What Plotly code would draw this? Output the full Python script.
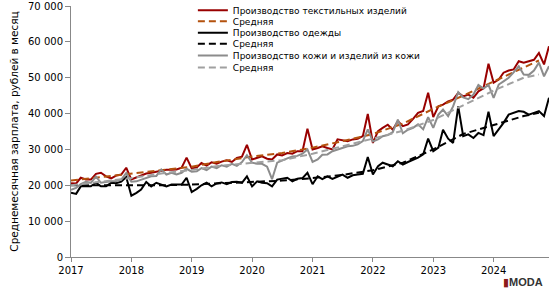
import pandas as pd
import plotly.graph_objects as go

# ---- data ----
months = pd.date_range("2017-01-01", "2024-12-01", freq="MS")

textile = [
    20600, 20500, 22100, 21600, 21600, 23200, 23500, 22500, 21900, 22700, 23000, 24900,
    21600, 22200, 22800, 23300, 23500, 23800, 24100, 24300, 24300, 24400, 24900, 27700,
    24700, 25000, 26200, 25500, 26400, 26000, 26600, 27000, 26500, 27600, 28000, 31300,
    27200, 27600, 28100, 27400, 27200, 28600, 28300, 29000, 28800, 29500, 29500, 35800,
    30000, 30400, 30900, 30400, 30000, 32800, 32500, 32300, 32800, 33000, 33700, 39900,
    31800, 35100, 36000, 36900, 35500, 37900, 36500, 37000, 38500, 40200, 40700, 45800,
    39000, 42000, 42500, 43400, 43900, 45800, 44800, 45300, 44400, 46200, 47000, 53900,
    48600, 49500, 51400, 52000, 52300, 54600, 54200, 54600, 55000, 56900, 53700, 58800,
]
apparel = [
    17900, 17600, 19700, 19700, 19700, 20700, 19700, 19700, 20700, 20600, 21000, 22300,
    17100, 17900, 18800, 20900, 19700, 20700, 20200, 19700, 20200, 20200, 20200, 22100,
    18100, 19000, 20000, 20700, 19700, 20500, 20800, 20300, 20900, 21000, 20700, 22500,
    19700, 21100, 20700, 20600, 19700, 21600, 21800, 22100, 21100, 21800, 22000, 23500,
    20300, 22500, 21700, 22500, 21800, 22400, 23000, 22100, 22800, 23000, 23200, 27900,
    23000, 25300, 26300, 25800, 25300, 26700, 25800, 26500, 27000, 27700, 28600, 33000,
    29500, 30500, 35500, 33000, 31800, 42000, 33700, 34200, 33200, 34600, 34000, 40500,
    33700, 35500, 37400, 39700, 40200, 40700, 40500, 39700, 40200, 40700, 39300, 44400,
]
leather = [
    18700, 19300, 20300, 21000, 20700, 22400, 20700, 21000, 21100, 21200, 21600, 23400,
    21000, 21100, 21600, 22100, 22500, 22600, 24400, 23000, 23500, 23000, 23500, 24600,
    23800, 23900, 24800, 24200, 25200, 24800, 25600, 25200, 26000, 25400, 26500, 28400,
    26300, 26000, 26000, 25200, 21700, 26300, 27000, 27500, 28000, 28200, 28800, 30000,
    26500, 27200, 28500, 28600, 29500, 30000, 30500, 30900, 31000, 31400, 32300, 35600,
    32200, 32800, 33700, 34000, 34800, 38300, 34500, 35500, 36000, 37000, 35600, 39000,
    36000, 39700, 41100, 39300, 42000, 46000, 44500, 44000, 45300, 48000, 47000, 48000,
    44400, 48100, 49000, 50000, 51500, 53200, 50900, 50800, 52000, 54200, 50400, 53200,
]

avg_dates = [
    "2017-01-01", "2017-07-01", "2018-01-01", "2018-07-01", "2019-01-01", "2019-07-01",
    "2020-01-01", "2020-07-01", "2021-01-01", "2021-07-01", "2022-01-01", "2022-07-01",
    "2023-01-01", "2023-07-01", "2024-01-01", "2024-07-01", "2024-10-01",
]
textile_avg = [21300, 22300, 23300, 24200, 25200, 26700, 28000, 29000, 30500, 32300,
               34300, 37200, 41300, 45000, 49000, 53000, 54800]
apparel_avg = [20000, 20000, 19900, 20000, 20200, 20600, 20900, 21300, 22000, 22900,
               24200, 26300, 30000, 34300, 36800, 39300, 40200]
leather_avg = [20000, 21000, 22000, 23300, 24300, 25500, 26200, 27000, 28800, 30800,
               33000, 35200, 38200, 42300, 46400, 50000, 50900]

names = [
    "Производство текстильных изделий", "Средняя",
    "Производство одежды", "Средняя",
    "Производство кожи и изделий из кожи", "Средняя",
]

year_ticks = [f"{y}-01-01" for y in range(2017, 2025)]
year_labels = [str(y) for y in range(2017, 2025)]
y_ticks = list(range(0, 70001, 10000))
y_labels = ["0", "10 000", "20 000", "30 000", "40 000", "50 000", "60 000", "70 000"]

# ---- styles ----
RED = "#990000"
BROWN = "#b4520e"
BLACK = "#000000"
GRAY = "#8c8c8c"
GRAY_D = "#a0a0a0"
DASH = "7px,4px"
FONT = "DejaVu Sans"

W, H = 554, 298
ML, MR, MT, MB = 71, 4.5, 6, 40.5
plot_w = W - ML - MR
plot_h = H - MT - MB

fig = go.Figure()
series = [
    (months, textile, RED, None),
    (avg_dates, textile_avg, BROWN, DASH),
    (months, apparel, BLACK, None),
    (avg_dates, apparel_avg, BLACK, DASH),
    (months, leather, GRAY, None),
    (avg_dates, leather_avg, GRAY_D, DASH),
]
legend_ids = ["legend", "legend2", "legend3", "legend4", "legend5", "legend6"]
for (xs, ys, col, dash), nm, lg in zip(series, names, legend_ids):
    fig.add_trace(go.Scatter(
        x=xs, y=ys, mode="lines", name=nm, legend=lg,
        line=dict(color=col, width=2, dash=dash),
    ))

# top edge (page px) of each one-item legend box (item centre sits ~17px below)
row_top_px = [-4.3, 6.8, 18.2, 29.4, 41.0, 53.2]
legend_x = (193 - ML) / plot_w
layout_legends = {}
for lg, py in zip(legend_ids, row_top_px):
    layout_legends[lg] = dict(
        x=legend_x, y=(H - MB - py) / plot_h, xanchor="left", yanchor="top",
        bgcolor="rgba(0,0,0,0)", borderwidth=0, itemwidth=30,
        font=dict(family=FONT, size=9, color="#000"),
        tracegroupgap=0,
    )

fig.update_layout(
    width=W, height=H, autosize=False,
    margin=dict(l=ML, r=MR, t=MT, b=MB, pad=0, autoexpand=False),
    paper_bgcolor="white", plot_bgcolor="white",
    font=dict(family=FONT, size=10, color="#000"),
    showlegend=True,
    **layout_legends,
)
fig.update_xaxes(
    type="date", range=["2017-01-01", "2024-12-01"],
    tickvals=year_ticks, ticktext=year_labels,
    showline=True, linecolor="#888", linewidth=1,
    ticks="outside", ticklen=4, tickcolor="#888",
    showgrid=False, zeroline=False,
    tickfont=dict(family=FONT, size=10, color="#000"),
)
fig.update_yaxes(
    range=[0, 70000], tickvals=y_ticks, ticktext=y_labels,
    showline=True, linecolor="#888", linewidth=1,
    ticks="outside", ticklen=5, tickcolor="#888",
    showgrid=False, zeroline=False,
    tickfont=dict(family=FONT, size=10, color="#000"),
    title=dict(text="Среднемесячная зарплата, рублей в месяц",
               font=dict(family=FONT, size=10.5, color="#000"), standoff=7),
)
fig.add_annotation(
    xref="paper", yref="paper",
    x=(545 - ML) / plot_w, y=(H - MB - 283) / plot_h,
    xanchor="right", yanchor="middle", showarrow=False,
    text="<span style='color:#8b1a1a'>▮</span><b>MODA</b>",
    font=dict(family="Liberation Sans", size=11, color="#333"),
)

fig.write_html("out.html")
